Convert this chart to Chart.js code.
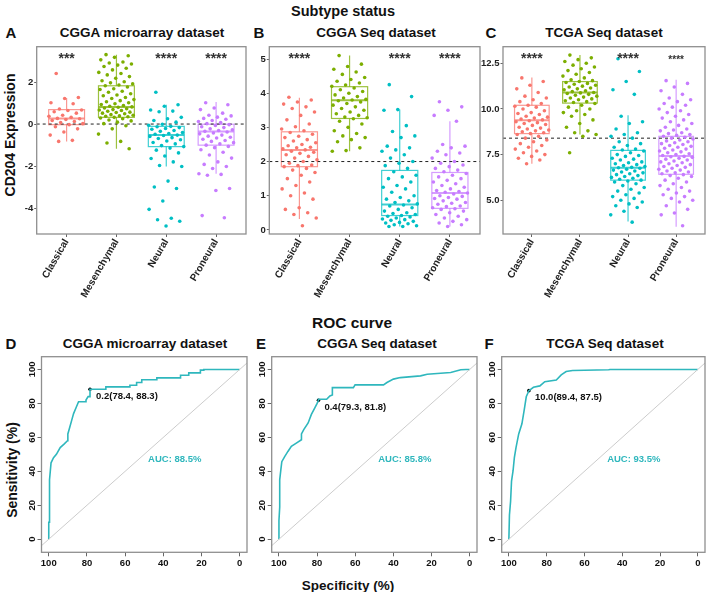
<!DOCTYPE html>
<html>
<head>
<meta charset="utf-8">
<script src="https://cdn.jsdelivr.net/npm/chart.js@4.4.1/dist/chart.umd.min.js"></script>
<style>
  body { margin: 0; background: #fff; width: 709px; height: 592px; position: relative; overflow: hidden;
         font-family: "Liberation Sans", Arial, sans-serif; }
  canvas { position: absolute; }
  .t { position: absolute; font-weight: bold; color: #111; white-space: nowrap; transform: translate(-50%, -50%); }
  .rot { transform: translate(-50%, -50%) rotate(-90deg); }
</style>
</head>
<body>
<div class="t" style="left:343px;top:11px;font-size:14.5px">Subtype status</div>
<div class="t" style="left:11px;top:32px;font-size:15px">A</div>
<div class="t" style="left:142px;top:32px;font-size:13.5px">CGGA microarray dataset</div>
<div class="t" style="left:259px;top:32px;font-size:15px">B</div>
<div class="t" style="left:376px;top:32px;font-size:13.5px">CGGA Seq dataset</div>
<div class="t" style="left:491px;top:32px;font-size:15px">C</div>
<div class="t" style="left:604px;top:32px;font-size:13.5px">TCGA Seq dataset</div>
<div class="t rot" style="left:10px;top:135px;font-size:14px">CD204 Expression</div>

<div class="t" style="left:352px;top:323px;font-size:15.5px">ROC curve</div>
<div class="t" style="left:11px;top:343px;font-size:15px">D</div>
<div class="t" style="left:145px;top:343px;font-size:13.5px">CGGA microarray dataset</div>
<div class="t" style="left:261px;top:343px;font-size:15px">E</div>
<div class="t" style="left:377px;top:343px;font-size:13.5px">CGGA Seq dataset</div>
<div class="t" style="left:489px;top:343px;font-size:15px">F</div>
<div class="t" style="left:605px;top:343px;font-size:13.5px">TCGA Seq dataset</div>
<div class="t rot" style="left:12px;top:470px;font-size:14px">Sensitivity (%)</div>
<div class="t" style="left:348px;top:585px;font-size:13.5px">Specificity (%)</div>

<canvas id="boxA" width="250" height="260" style="left:0px;top:40px"></canvas>
<canvas id="boxB" width="234" height="260" style="left:250px;top:40px"></canvas>
<canvas id="boxC" width="239" height="260" style="left:470px;top:40px"></canvas>
<canvas id="rocD" width="251" height="247" style="left:0px;top:345px"></canvas>
<canvas id="rocE" width="230" height="247" style="left:251px;top:345px"></canvas>
<canvas id="rocF" width="228" height="247" style="left:481px;top:345px"></canvas>

<script>
const FONT = '"Liberation Sans", Arial, sans-serif';
const subtypes = ['Classical', 'Mesenchymal', 'Neural', 'Proneural'];
const subtypeColors = ['#F8766D', '#7CAE00', '#00BFC4', '#C77CFF'];
const frameColor = '#8f8f8f';
const rocColor = '#2fb7bd';

// CD204 expression per subtype, CGGA microarray
const microClassical = [2.45, 1.3, 1.25, 1.05, 1.0, 0.75, 0.7, 0.68, 0.62, 0.55, 0.45, 0.4, 0.35, 0.3, 0.28, 0.25, 0.2, 0.15, 0.1, 0.05, 0.0, -0.1, -0.2, -0.35, -0.5, -0.75, -0.8];
const microMesenchymal = [3.35, 3.3, 3.22, 3.1, 3.0, 2.95, 2.9, 2.85, 2.78, 2.7, 2.62, 2.5, 2.45, 2.38, 2.3, 2.22, 2.1, 2.05, 2.0, 1.95, 1.9, 1.86, 1.8, 1.72, 1.68, 1.6, 1.55, 1.48, 1.42, 1.38, 1.3, 1.25, 1.2, 1.15, 1.1, 1.05, 1.0, 0.96, 0.92, 0.88, 0.85, 0.83, 0.8, 0.76, 0.72, 0.7, 0.68, 0.64, 0.6, 0.58, 0.55, 0.52, 0.48, 0.45, 0.42, 0.4, 0.38, 0.35, 0.32, 0.28, 0.22, 0.18, 0.12, 0.05, -0.05, -0.2, -0.45, -0.8, -0.88, -1.15];
const microNeural = [1.55, 0.95, 0.88, 0.7, 0.65, 0.62, 0.35, 0.28, 0.2, 0.12, 0.02, -0.03, -0.08, -0.1, -0.14, -0.18, -0.22, -0.28, -0.32, -0.38, -0.42, -0.46, -0.5, -0.52, -0.56, -0.62, -0.66, -0.72, -0.78, -0.85, -0.92, -1.0, -1.05, -1.12, -1.22, -1.35, -1.5, -1.62, -1.78, -1.95, -2.0, -2.7, -2.98, -3.05, -3.65, -4.05, -4.48, -4.55, -4.62, -4.85];
const microProneural = [1.05, 0.95, 0.8, 0.72, 0.55, 0.45, 0.42, 0.36, 0.3, 0.26, 0.2, 0.15, 0.1, 0.05, 0.0, -0.04, -0.1, -0.14, -0.2, -0.24, -0.28, -0.32, -0.35, -0.4, -0.44, -0.5, -0.55, -0.6, -0.64, -0.7, -0.76, -0.8, -0.86, -0.92, -0.98, -1.04, -1.1, -1.2, -1.32, -1.45, -1.6, -1.78, -1.9, -2.0, -2.1, -2.35, -2.38, -2.42, -3.05, -3.15, -4.35, -4.45];
const microLow = [-0.8, -1.15, -2.0, -2.35];
const microQ1 = [0.0, 0.35, -1.05, -0.98];
const microMed = [0.3, 0.85, -0.5, -0.33];
const microQ3 = [0.72, 1.86, -0.08, 0.02];
const microHigh = [1.28, 3.35, 0.95, 1.08];
const microStars = ['***', '', '****', '****'];
const microCutoff = 0.03;
const microTicks = [-4, -2, 0, 2];

// CGGA Seq
const seqClassical = [3.88, 3.8, 3.74, 3.68, 3.6, 3.55, 3.45, 3.35, 3.22, 3.1, 3.02, 2.95, 2.9, 2.85, 2.8, 2.74, 2.7, 2.64, 2.6, 2.55, 2.5, 2.46, 2.42, 2.4, 2.37, 2.34, 2.3, 2.27, 2.24, 2.2, 2.15, 2.1, 2.05, 2.0, 1.95, 1.9, 1.88, 1.85, 1.8, 1.75, 1.68, 1.6, 1.5, 1.4, 1.3, 1.2, 1.08, 1.0, 0.9, 0.65, 0.6, 0.5, 0.45, 0.35, 0.12];
const seqMesenchymal = [5.1, 4.85, 4.78, 4.7, 4.62, 4.55, 4.46, 4.4, 4.35, 4.3, 4.24, 4.2, 4.15, 4.1, 4.05, 4.0, 3.95, 3.9, 3.86, 3.82, 3.8, 3.78, 3.74, 3.7, 3.65, 3.6, 3.55, 3.5, 3.45, 3.4, 3.35, 3.3, 3.28, 3.25, 3.18, 3.1, 3.0, 2.9, 2.82, 2.75, 2.7, 2.64, 2.58, 2.4, 2.32, 2.3];
const seqNeural = [4.25, 3.9, 3.52, 3.5, 3.05, 2.88, 2.75, 2.7, 2.45, 2.4, 2.34, 2.3, 2.2, 2.1, 2.0, 1.95, 1.88, 1.8, 1.7, 1.6, 1.55, 1.5, 1.4, 1.3, 1.25, 1.2, 1.1, 1.0, 0.95, 0.9, 0.85, 0.8, 0.76, 0.73, 0.7, 0.65, 0.6, 0.55, 0.5, 0.48, 0.45, 0.42, 0.4, 0.38, 0.35, 0.32, 0.3, 0.28, 0.25, 0.22, 0.2, 0.18, 0.15, 0.12, 0.1, 0.1];
const seqProneural = [3.75, 3.6, 3.5, 3.35, 3.18, 2.5, 2.45, 2.4, 2.3, 2.25, 2.2, 2.1, 2.0, 1.95, 1.9, 1.85, 1.8, 1.75, 1.7, 1.65, 1.6, 1.55, 1.5, 1.45, 1.4, 1.35, 1.3, 1.25, 1.2, 1.15, 1.12, 1.1, 1.08, 1.05, 1.0, 0.98, 0.95, 0.92, 0.9, 0.85, 0.8, 0.78, 0.75, 0.7, 0.68, 0.65, 0.62, 0.6, 0.55, 0.5, 0.45, 0.4, 0.35, 0.3, 0.25, 0.2, 0.15, 0.1];
const seqLow = [0.32, 2.3, 0.1, 0.1];
const seqQ1 = [1.85, 3.26, 0.42, 0.63];
const seqMed = [2.34, 3.79, 0.74, 1.08];
const seqQ3 = [2.87, 4.19, 1.74, 1.68];
const seqHigh = [3.87, 5.1, 3.52, 3.18];
const seqStars = ['****', '', '****', '****'];
const seqCutoff = 2.0;
const seqTicks = [0, 1, 2, 3, 4, 5];

// TCGA Seq
const tcgaClassical = [11.7, 11.5, 11.3, 11.1, 10.9, 10.7, 10.6, 10.5, 10.4, 10.3, 10.2, 10.15, 10.1, 10.0, 9.9, 9.8, 9.75, 9.7, 9.6, 9.55, 9.5, 9.45, 9.4, 9.35, 9.3, 9.25, 9.2, 9.15, 9.1, 9.0, 8.95, 8.9, 8.85, 8.8, 8.75, 8.7, 8.65, 8.6, 8.5, 8.4, 8.3, 8.2, 8.1, 8.0, 7.9, 7.8, 7.7, 7.6, 7.5, 7.4, 7.3, 7.2, 7.0];
const tcgaMesenchymal = [12.95, 12.8, 12.7, 12.6, 12.5, 12.4, 12.3, 12.2, 12.1, 12.0, 11.9, 11.8, 11.7, 11.6, 11.55, 11.5, 11.45, 11.4, 11.35, 11.3, 11.25, 11.2, 11.15, 11.1, 11.05, 11.0, 10.95, 10.9, 10.88, 10.85, 10.8, 10.75, 10.7, 10.65, 10.6, 10.55, 10.5, 10.45, 10.4, 10.35, 10.3, 10.2, 10.1, 10.0, 9.9, 9.8, 9.7, 9.6, 9.4, 9.2, 9.0, 8.8, 8.7, 8.6, 8.5, 7.6];
const tcgaNeural = [12.75, 12.05, 11.5, 11.05, 10.8, 9.6, 9.3, 9.2, 8.9, 8.7, 8.6, 8.5, 8.4, 8.2, 8.1, 8.0, 7.9, 7.8, 7.75, 7.7, 7.6, 7.5, 7.45, 7.4, 7.3, 7.25, 7.2, 7.1, 7.05, 7.0, 6.95, 6.9, 6.85, 6.8, 6.78, 6.75, 6.7, 6.65, 6.6, 6.55, 6.5, 6.45, 6.4, 6.35, 6.3, 6.25, 6.2, 6.15, 6.1, 6.05, 6.0, 5.9, 5.8, 5.7, 5.6, 5.5, 5.4, 5.3, 5.2, 5.1, 5.0, 4.9, 4.8, 4.7, 4.6, 4.4, 4.2, 3.8];
const tcgaProneural = [11.55, 11.4, 11.2, 11.0, 10.8, 10.6, 10.5, 10.4, 10.3, 10.2, 10.1, 10.0, 9.9, 9.8, 9.7, 9.6, 9.5, 9.4, 9.3, 9.2, 9.1, 9.0, 8.9, 8.85, 8.8, 8.7, 8.65, 8.6, 8.55, 8.5, 8.45, 8.4, 8.35, 8.3, 8.25, 8.2, 8.15, 8.1, 8.05, 8.0, 7.95, 7.9, 7.85, 7.8, 7.75, 7.7, 7.65, 7.6, 7.55, 7.5, 7.45, 7.4, 7.38, 7.35, 7.3, 7.25, 7.2, 7.15, 7.1, 7.05, 7.0, 6.95, 6.9, 6.85, 6.8, 6.75, 6.7, 6.65, 6.6, 6.55, 6.5, 6.45, 6.4, 6.35, 6.3, 6.2, 6.1, 6.0, 5.9, 5.8, 5.7, 5.6, 5.5, 5.4, 5.3, 5.2, 5.1, 5.0, 4.9, 4.7, 4.5, 4.3, 4.2, 3.6];
const tcgaLow = [7.0, 8.6, 3.84, 3.55];
const tcgaQ1 = [8.65, 10.32, 6.1, 6.42];
const tcgaMed = [9.38, 10.9, 6.78, 7.42];
const tcgaQ3 = [10.2, 11.5, 7.73, 8.5];
const tcgaHigh = [11.72, 12.96, 9.65, 11.6];
const tcgaStars = ['****', '', '****', '****'];
const tcgaCutoff = 8.4;
const tcgaTicks = [5, 7.5, 10, 12.5];

// ROC curves (specificity %, sensitivity %)
const microSpec = [100, 100, 99.6, 99.6, 98.8, 97.5, 96, 94, 92, 90.2, 90, 89, 88, 87, 85.5, 84.4, 81, 80.5, 79.4, 78.4, 78.4, 70.1, 70.1, 57.5, 57.5, 54, 54, 51.3, 51.3, 43.4, 43.4, 31, 31, 26.7, 26.7, 20.6, 20.6, 18.8, 18.8, 0];
const microSens = [0, 10, 10, 35, 45, 48, 50, 54, 56, 58, 62, 66, 70, 74, 78, 81, 81, 82, 84, 84, 88.3, 88.3, 89.7, 89.7, 90.7, 90.7, 92.3, 92.3, 93.9, 93.9, 95, 95, 96.6, 96.6, 98, 98, 99.6, 99.6, 100, 100];
const microBest = [78.4, 88.3];
const microBestLabel = '0.2(78.4, 88.3)';
const microAuc = 'AUC: 88.5%';

const seqSpec = [100, 100, 99.6, 99.6, 99, 98.5, 97, 95.3, 93.5, 90.9, 88.2, 88.2, 87, 84.7, 83, 81.2, 80, 79.3, 79.3, 75, 73.3, 72, 72, 61, 60.1, 45.2, 43.4, 40, 36.4, 25.8, 22.3, 10, 4.7, 2, 0];
const seqSens = [0, 11, 19, 35, 41, 45.7, 48.7, 51.7, 54.7, 56.6, 58.6, 62, 64.6, 68.5, 73.5, 77.4, 80, 81.8, 82.4, 82.4, 84.4, 85, 89.3, 89.3, 90.9, 90.9, 92.3, 94.3, 95.2, 96.2, 97.2, 98.2, 99.8, 100, 100];
const seqBest = [79.3, 81.8];
const seqBestLabel = '0.4(79.3, 81.8)';
const seqAuc = 'AUC: 85.8%';

const tcgaSpec = [100, 99.7, 99.1, 98.6, 97.8, 97.1, 96.2, 94.8, 93.1, 91.9, 90.8, 89.4, 87, 83.6, 81, 74.9, 72.3, 69.7, 66.3, 47.2, 46.4, 0];
const tcgaSens = [0, 14.3, 22.3, 34.2, 40.2, 48.1, 54.1, 62, 68, 76, 83.9, 87.5, 89.5, 90.3, 92.8, 93.8, 96.8, 98.8, 99.4, 99.8, 100, 100];
const tcgaBest = [89.4, 87.5];
const tcgaBestLabel = '10.0(89.4, 87.5)';
const tcgaAuc = 'AUC: 93.5%';

const rocTicks = [0, 20, 40, 60, 80, 100];

// spread points sideways like geom_jitter, but repeatable
function jitter(j) {
  return (((j * 0.618034 + 0.21) % 1) - 0.5) * 0.72;
}

function boxChart(id, groups, low, q1, med, q3, high, stars, cutoff, yMin, yMax, yTicks, yWidth, padRight, fmt, smallLast) {
  const datasets = groups.map((vals, i) => ({
    data: vals.map((v, j) => ({ x: i + 1 + jitter(j), y: v })),
    backgroundColor: subtypeColors[i],
    borderWidth: 0,
    pointRadius: 1.8
  }));

  const boxes = {
    id: 'boxes',
    beforeDatasetsDraw(chart) {
      const { ctx, chartArea: a, scales: { x, y } } = chart;
      ctx.save();
      ctx.globalAlpha = 0.75;
      q1.forEach((v, i) => {
        const xl = x.getPixelForValue(i + 1 - 0.36);
        const xr = x.getPixelForValue(i + 1 + 0.36);
        const xc = x.getPixelForValue(i + 1);
        const y1 = y.getPixelForValue(v);
        const y3 = y.getPixelForValue(q3[i]);
        const ym = y.getPixelForValue(med[i]);
        ctx.strokeStyle = subtypeColors[i];
        ctx.lineWidth = 1.2;
        ctx.beginPath();
        ctx.moveTo(xc, y.getPixelForValue(high[i]));
        ctx.lineTo(xc, y3);
        ctx.moveTo(xc, y1);
        ctx.lineTo(xc, y.getPixelForValue(low[i]));
        ctx.stroke();
        ctx.strokeRect(xl, y3, xr - xl, y1 - y3);
        ctx.lineWidth = 2;
        ctx.beginPath();
        ctx.moveTo(xl, ym);
        ctx.lineTo(xr, ym);
        ctx.stroke();
      });
      ctx.globalAlpha = 1;
      ctx.strokeStyle = '#222';
      ctx.lineWidth = 1;
      ctx.setLineDash([3, 3]);
      ctx.beginPath();
      ctx.moveTo(a.left, y.getPixelForValue(cutoff));
      ctx.lineTo(a.right, y.getPixelForValue(cutoff));
      ctx.stroke();
      ctx.restore();
    },
    afterDatasetsDraw(chart) {
      const { ctx, chartArea: a, scales: { x } } = chart;
      ctx.save();
      ctx.fillStyle = '#333';
      ctx.textAlign = 'center';
      ctx.textBaseline = 'middle';
      stars.forEach((s, i) => {
        const small = smallLast && i === stars.length - 1;
        ctx.font = 'bold ' + (small ? 10 : 14) + 'px ' + FONT;
        ctx.fillText(s, x.getPixelForValue(i + 1), a.top + (small ? 14 : 12));
      });
      ctx.strokeStyle = frameColor;
      ctx.lineWidth = 1.3;
      ctx.strokeRect(a.left, a.top, a.width, a.height);
      ctx.restore();
    }
  };

  new Chart(document.getElementById(id), {
    type: 'scatter',
    data: { datasets },
    options: {
      responsive: false,
      animation: false,
      events: [],
      layout: { padding: { top: 5, right: padRight, left: 0, bottom: 0 } },
      plugins: { legend: { display: false }, tooltip: { enabled: false } },
      scales: {
        x: {
          type: 'linear', min: 0.4, max: 4.6,
          afterBuildTicks: s => { s.ticks = [1, 2, 3, 4].map(v => ({ value: v })); },
          ticks: {
            callback: v => subtypes[v - 1], minRotation: 60, maxRotation: 60, autoSkip: false,
            color: '#222', font: { family: FONT, weight: 'bold', size: 10 }, padding: 0
          },
          grid: { drawOnChartArea: false, tickLength: 3, color: '#666' },
          border: { display: false },
          afterFit: s => { s.height = 66; }
        },
        y: {
          min: yMin, max: yMax,
          afterBuildTicks: s => { s.ticks = yTicks.map(v => ({ value: v })); },
          ticks: { callback: fmt, color: '#222', font: { family: FONT, weight: 'bold', size: 9.5 }, padding: 1 },
          grid: { drawOnChartArea: false, tickLength: 2.5, color: '#666' },
          border: { display: false },
          afterFit: s => { s.width = yWidth; }
        }
      }
    },
    plugins: [boxes]
  });
}

function rocChart(id, spec, sens, best, bestLabel, auc, yWidth, padRight) {
  const labels = {
    id: 'rocLabels',
    afterDatasetsDraw(chart) {
      const { ctx, chartArea: a, scales: { x, y } } = chart;
      ctx.save();
      ctx.font = 'bold 9.5px ' + FONT;
      ctx.textBaseline = 'middle';
      ctx.textAlign = 'left';
      ctx.fillStyle = '#111';
      ctx.fillText(bestLabel, x.getPixelForValue(best[0]) + 6, y.getPixelForValue(best[1]) + 7);
      ctx.fillStyle = rocColor;
      ctx.fillText(auc, x.getPixelForValue(48), y.getPixelForValue(47));
      ctx.fillStyle = '#111';
      ctx.textAlign = 'center';
      rocTicks.forEach(v => {
        ctx.save();
        ctx.translate(a.left - 9.5, y.getPixelForValue(v));
        ctx.rotate(-Math.PI / 2);
        ctx.fillText(String(v), 0, 0);
        ctx.restore();
      });
      ctx.strokeStyle = frameColor;
      ctx.lineWidth = 1.3;
      ctx.strokeRect(a.left, a.top, a.width, a.height);
      ctx.restore();
    }
  };

  new Chart(document.getElementById(id), {
    type: 'scatter',
    data: {
      datasets: [
        { data: [{ x: 110, y: -10 }, { x: -10, y: 110 }], showLine: true, borderColor: '#cccccc', borderWidth: 1, pointRadius: 0 },
        { data: spec.map((s, i) => ({ x: s, y: sens[i] })), showLine: true, borderColor: rocColor, borderWidth: 1.6, pointRadius: 0, tension: 0 },
        { data: [{ x: best[0], y: best[1] }], pointRadius: 1.8, backgroundColor: '#000', borderWidth: 0 }
      ]
    },
    options: {
      responsive: false,
      animation: false,
      events: [],
      layout: { padding: { top: 11.7, right: padRight, left: 0, bottom: 0 } },
      plugins: { legend: { display: false }, tooltip: { enabled: false } },
      scales: {
        x: {
          type: 'linear', reverse: true, min: -3.8, max: 103.8,
          afterBuildTicks: s => { s.ticks = rocTicks.map(v => ({ value: v })); },
          ticks: { maxRotation: 0, color: '#111', font: { family: FONT, weight: 'bold', size: 9.5 }, padding: 1 },
          grid: { drawOnChartArea: false, tickLength: 4, color: '#666' },
          border: { display: false },
          afterFit: s => { s.height = 39.7; }
        },
        y: {
          min: -7.7, max: 107.5,
          afterBuildTicks: s => { s.ticks = rocTicks.map(v => ({ value: v })); },
          ticks: { display: false },
          grid: { drawOnChartArea: false, tickLength: 4, color: '#666' },
          border: { display: false },
          afterFit: s => { s.width = yWidth; }
        }
      }
    },
    plugins: [labels]
  });
}

boxChart('boxA', [microClassical, microMesenchymal, microNeural, microProneural],
  microLow, microQ1, microMed, microQ3, microHigh, microStars, microCutoff,
  -5.23, 3.73, microTicks, 36.7, 1.7, v => String(v), false);
boxChart('boxB', [seqClassical, seqMesenchymal, seqNeural, seqProneural],
  seqLow, seqQ1, seqMed, seqQ3, seqHigh, seqStars, seqCutoff,
  -0.12, 5.36, seqTicks, 19.3, 2, v => String(v), false);
boxChart('boxC', [tcgaClassical, tcgaMesenchymal, tcgaNeural, tcgaProneural],
  tcgaLow, tcgaQ1, tcgaMed, tcgaQ3, tcgaHigh, tcgaStars, tcgaCutoff,
  3.15, 13.41, tcgaTicks, 33, 1, v => v.toFixed(1), true);

rocChart('rocD', microSpec, microSens, microBest, microBestLabel, microAuc, 41.5, 2);
rocChart('rocE', seqSpec, seqSens, seqBest, seqBestLabel, seqAuc, 20.7, 2);
rocChart('rocF', tcgaSpec, tcgaSens, tcgaBest, tcgaBestLabel, tcgaAuc, 20.7, 0.7);
</script>
</body>
</html>
